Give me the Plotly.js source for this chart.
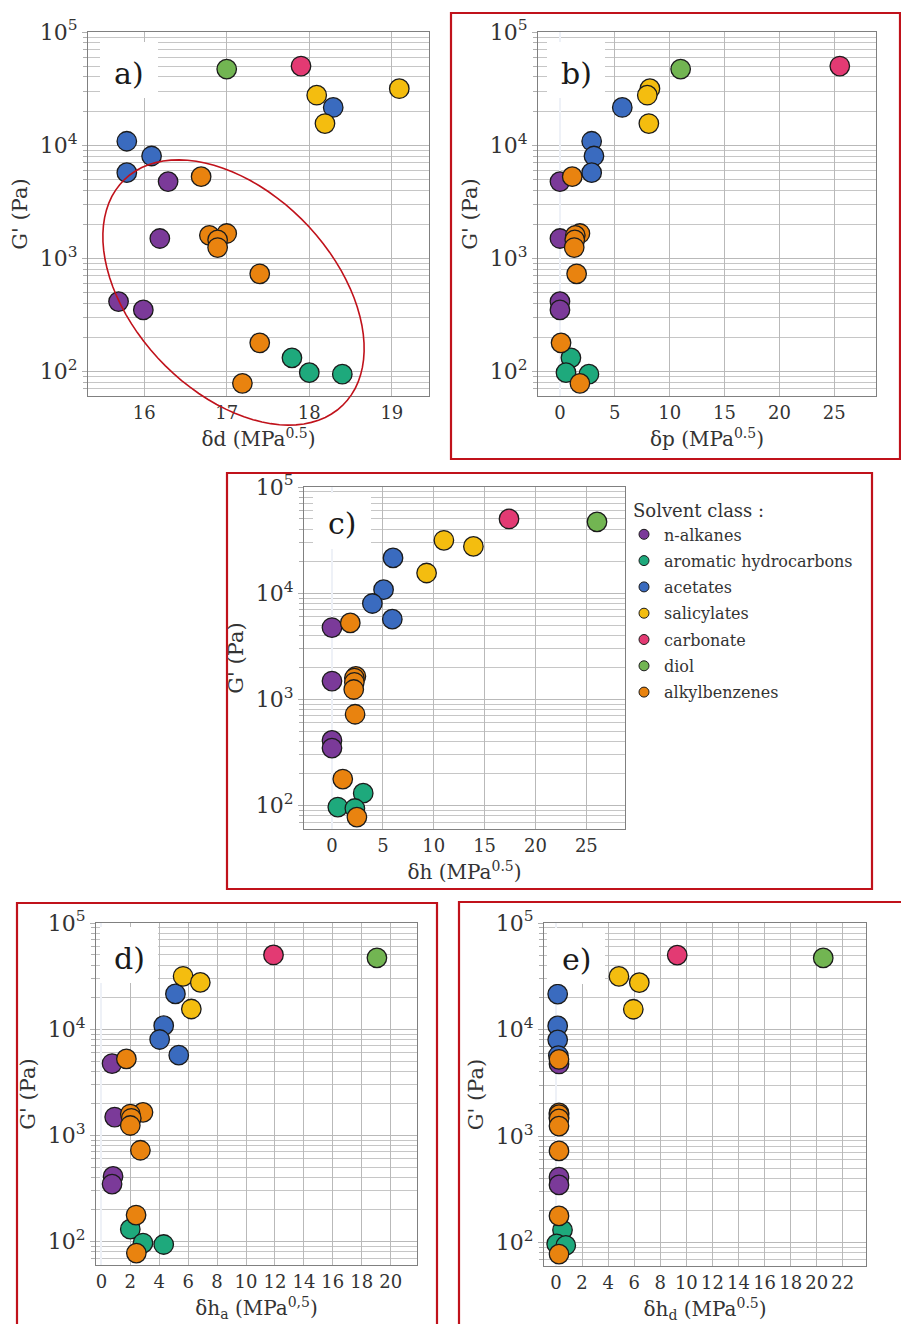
<!DOCTYPE html>
<html><head><meta charset="utf-8">
<script src="https://cdn.plot.ly/plotly-3.0.1.min.js"></script>
<style>html,body{margin:0;padding:0;background:#fff}#chart{width:901px;height:1324px}</style>
</head><body><div id="chart"></div>
<script>
// ---------------- data ----------------
const classNames = ['n-alkanes','aromatic hydrocarbons','acetates','salicylates','carbonate','diol','alkylbenzenes'];
const classColors = ['#7b3a99','#1ea97c','#3a6bbf','#f4bd0f','#e33a73','#72b552','#e9830f'];

// one entry per solvent
const solventClass = [0,0,0,0, 1,1,1, 2,2,2,2, 3,3,3, 4, 5, 6,6,6,6,6,6,6,6];
const gPrime  = [4750,1490,412,348, 131,97,94, 21500,10800,8000,5700, 31500,27600,15500, 50000, 47000, 5250,1650,1590,1450,1240,725,178,78];
const deltaD  = [16.29,16.19,15.69,15.99, 17.79,18.0,18.4, 18.29,15.79,16.09,15.79, 19.09,18.09,18.19, 17.9, 17.0, 16.69,17.0,16.79,16.89,16.89,17.4,17.4,17.19];
const deltaP  = [0,0,0,0, 1.0,0.55,2.64, 5.68,2.89,3.1,2.89, 8.2,7.96,8.1, 25.5, 11.0, 1.12,1.82,1.4,1.35,1.3,1.52,0.1,1.82];
const deltaH  = [0,0,0,0, 3.07,0.57,2.25, 6.0,5.07,3.97,5.93, 11.0,13.9,9.3, 17.4, 26.05, 1.8,2.35,2.2,2.2,2.14,2.27,1.06,2.45];
const deltaHa = [0.74,0.92,0.81,0.74, 2.0,2.88,4.31, 5.12,4.31,4.03,5.35, 5.65,6.84,6.22, 11.9, 19.05, 1.73,2.88,2.0,2.07,2.0,2.7,2.4,2.42];
const deltaHd = [0.23,0.23,0.23,0.23, 0.5,0.05,0.75, 0.13,0.13,0.13,0.18, 4.83,6.39,5.93, 9.3, 20.5, 0.23,0.23,0.23,0.23,0.23,0.23,0.23,0.23];

const yTickVals = [100, 1000, 10000, 100000];
const yTickText = ['10<sup>2</sup>','10<sup>3</sup>','10<sup>4</sup>','10<sup>5</sup>'];
const panelLabels = ['a)','b)','c)','d)','e)'];
const xTitles = ['δd (MPa<sup>0.5</sup>)','δp (MPa<sup>0.5</sup>)','δh (MPa<sup>0.5</sup>)','δh<sub>a</sub> (MPa<sup>0,5</sup>)','δh<sub>d</sub> (MPa<sup>0.5</sup>)'];
const yTitle = "G' (Pa)";
const legendTitle = 'Solvent class :';

// ---------------- layout geometry (pixels) ----------------
const W = 901, H = 1324;
const FONT = 'DejaVu Serif';
const TXT = '#333333';
const RED = '#c0121b';
const panels = [
  {xs: deltaD,  px:[88,429],  py:[32,396],   range:[15.32,19.45], dtick:1, box:[100,42]},
  {xs: deltaP,  px:[538,876], py:[32,396],   range:[-2.0,28.8],   dtick:5, box:[547,42]},
  {xs: deltaH,  px:[304,625], py:[487,829],  range:[-2.75,28.8],  dtick:5, box:[313,493]},
  {xs: deltaHa, px:[96,417],  py:[923,1265], range:[-0.37,21.82], dtick:2, box:[100,927]},
  {xs: deltaHd, px:[544,866], py:[923,1266], range:[-0.92,23.78], dtick:2, box:[547,928]}
];
const frames = [[451,13,900,459],[227,473,872,889],[17,903,437,1330],[459,902,903,1330]];
const ellipse = {cx:233.5, cy:292.5, a:157, b:100, angleDeg:46};

const minorVals = [];
for (let e = 1; e <= 4; e++) for (let m = 2; m <= 9; m++) minorVals.push(m * Math.pow(10, e));

const fx = p => p / W;
const fy = p => 1 - p / H;

// ---------------- traces ----------------
const traces = [];
panels.forEach((pn, k) => {
  const sfx = k === 0 ? '' : String(k + 1);
  classNames.forEach((cn, c) => {
    const idx = [];
    solventClass.forEach((sc, i) => { if (sc === c) idx.push(i); });
    traces.push({
      type: 'scatter', mode: 'markers',
      x: idx.map(i => pn.xs[i]), y: idx.map(i => gPrime[i]),
      xaxis: 'x' + sfx, yaxis: 'y' + sfx,
      name: cn, showlegend: false, hoverinfo: 'skip',
      marker: {size: 19.5, color: classColors[c], line: {color: '#1b1b1b', width: 1.3}}
    });
  });
});
// legend entries (no data points)
classNames.forEach((cn, c) => {
  traces.push({
    type: 'scatter', mode: 'markers', x: [null], y: [null],
    xaxis: 'x3', yaxis: 'y3', name: cn, legendgroup: 'g' + c, showlegend: true,
    marker: {size: 10, color: classColors[c], line: {color: '#1b1b1b', width: 1}}
  });
});

// ---------------- layout ----------------
const layout = {
  width: W, height: H, margin: {l:0, r:0, t:0, b:0},
  paper_bgcolor: '#fff', plot_bgcolor: '#fff',
  font: {family: FONT, color: TXT},
  showlegend: true,
  legend: {
    x: fx(631), y: fy(494), xanchor: 'left', yanchor: 'top',
    bgcolor: 'rgba(0,0,0,0)', borderwidth: 0,
    font: {family: FONT, size: 16, color: TXT},
    title: {text: legendTitle, font: {family: FONT, size: 18, color: TXT}},
    traceorder: 'grouped', tracegroupgap: 2.5, indentation: -7, itemclick: false
  },
  shapes: [], annotations: []
};

panels.forEach((pn, k) => {
  const sfx = k === 0 ? '' : String(k + 1);
  layout['xaxis' + sfx] = {
    domain: [fx(pn.px[0]), fx(pn.px[1])], anchor: 'y' + sfx,
    range: pn.range, dtick: pn.dtick, tick0: 0,
    showgrid: true, gridcolor: '#b9b9b9', gridwidth: 1,
    zeroline: true, zerolinecolor: '#eef1f7', zerolinewidth: 2,
    showline: true, mirror: true, linecolor: '#808080', linewidth: 1,
    ticks: '', tickfont: {family: FONT, size: 18, color: TXT},
    title: {text: xTitles[k], font: {family: FONT, size: 20, color: TXT}, standoff: 10},
    fixedrange: true
  };
  layout['yaxis' + sfx] = {
    domain: [fy(pn.py[1]), fy(pn.py[0])], anchor: 'x' + sfx,
    type: 'log', range: [1.78, 5],
    tickmode: 'array', tickvals: yTickVals, ticktext: yTickText,
    showgrid: true, gridcolor: '#b9b9b9', gridwidth: 1,
    minor: {tickmode: 'array', tickvals: minorVals, showgrid: true, gridcolor: '#c6c6c6', gridwidth: 1,
            ticks: 'outside', ticklen: 4, tickcolor: '#b0b0b0'},
    ticks: 'outside', ticklen: 5, tickcolor: '#b0b0b0',
    zeroline: false,
    showline: true, mirror: true, linecolor: '#808080', linewidth: 1,
    tickfont: {family: FONT, size: 22, color: TXT},
    title: {text: yTitle, font: {family: FONT, size: 21, color: TXT}, standoff: 6},
    fixedrange: true
  };
  // white label box + label
  const bx = pn.box[0], by = pn.box[1], bw = 58, bh = 56;
  layout.shapes.push({type: 'rect', xref: 'paper', yref: 'paper', layer: 'above',
    x0: fx(bx), x1: fx(bx + bw), y0: fy(by + bh), y1: fy(by),
    fillcolor: '#ffffff', line: {width: 0}});
  layout.annotations.push({xref: 'paper', yref: 'paper', x: fx(bx + bw / 2), y: fy(by + bh / 2 + 3),
    xanchor: 'center', yanchor: 'middle', showarrow: false, text: panelLabels[k],
    font: {family: FONT, size: 30, color: '#1a1a1a'}});
});

// red frames
frames.forEach(f => {
  layout.shapes.push({type: 'rect', xref: 'paper', yref: 'paper', layer: 'above',
    x0: fx(f[0]), x1: fx(f[2]), y0: fy(f[3]), y1: fy(f[1]),
    fillcolor: 'rgba(0,0,0,0)', line: {color: RED, width: 2.2}});
});

// ellipse in panel a
(function () {
  const th = ellipse.angleDeg * Math.PI / 180;
  let p = '';
  for (let i = 0; i <= 90; i++) {
    const t = i / 90 * 2 * Math.PI;
    const px = ellipse.cx + ellipse.a * Math.cos(t) * Math.cos(th) - ellipse.b * Math.sin(t) * Math.sin(th);
    const py = ellipse.cy + ellipse.a * Math.cos(t) * Math.sin(th) + ellipse.b * Math.sin(t) * Math.cos(th);
    p += (i ? 'L' : 'M') + fx(px).toFixed(5) + ',' + fy(py).toFixed(5);
  }
  layout.shapes.push({type: 'path', xref: 'paper', yref: 'paper', layer: 'above', path: p + 'Z',
    line: {color: RED, width: 1.6}, fillcolor: 'rgba(0,0,0,0)'});
})();

Plotly.newPlot('chart', traces, layout, {displayModeBar: false, staticPlot: true});
</script>
</body></html>
